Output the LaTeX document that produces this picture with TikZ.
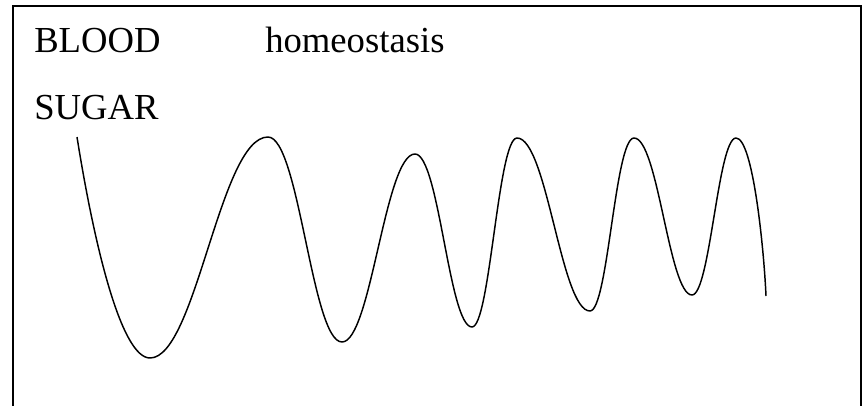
\documentclass[tikz,border=0pt]{standalone}
\usepackage{fontspec}
\setmainfont{Liberation Serif}
\usepackage{tikz}

\begin{document}
\begin{tikzpicture}[x=0.75pt, y=-0.75pt,
    frame/.style={draw, line width=0.9pt},
    lbl/.style={anchor=base west, inner sep=0pt, font=\fontsize{27.5}{33}\selectfont},
    wave/.style={line width=1.1pt, line join=round}]
  \useasboundingbox (0,0) rectangle (866,406);
  \draw[frame] (13,406) -- (13,6) -- (861,6) -- (861,406);
  \node[lbl] (blood) at (34,53) {BLOOD};
  \node[lbl] (homeo) at (265,53) {homeostasis};
  \node[lbl] (sugar) at (34,120) {SUGAR};
  % blood sugar level
  \draw[wave] (77,137)
    .. controls (95,250) and (122,358) .. (150,358)
    .. controls +(46,0) and +(-48,0) .. (268,137)
    .. controls +(31,0) and +(-30,0) .. (342,342)
    .. controls +(29,0) and +(-30,0) .. (415,154)
    .. controls +(24,0) and +(-23,0) .. (472,327)
    .. controls +(18,0) and +(-19,0) .. (517,138)
    .. controls +(30,0) and +(-29,0) .. (590,311)
    .. controls +(18,0) and +(-19,0) .. (634,138)
    .. controls +(24,0) and +(-23,0) .. (692,295)
    .. controls +(18,0) and +(-18,0) .. (736,138)
    .. controls (753,138) and (764,250) .. (766,296);
\end{tikzpicture}
\end{document}
